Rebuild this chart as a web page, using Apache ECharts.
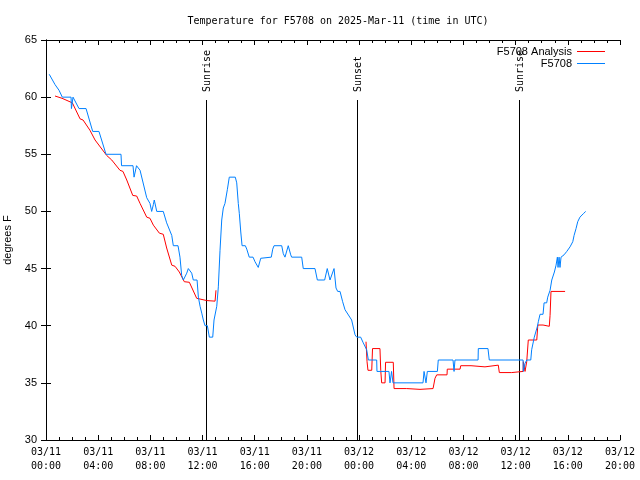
<!DOCTYPE html>
<html>
<head>
<meta charset="utf-8">
<script src="https://cdn.jsdelivr.net/npm/echarts@6/dist/echarts.min.js"></script>
<style>
html,body{margin:0;padding:0;background:#fff;}
#chart{width:640px;height:480px;}
</style>
</head>
<body>
<div id="chart"></div>
<script>
// Hours since 2025-03-11 00:00 UTC
const obsHours = [0.25,0.69,1.0,1.25,1.92,1.95,2.07,2.15,2.53,3.07,3.58,4.06,4.6,5.75,5.79,6.67,6.75,6.9,6.94,7.21,7.72,7.97,8.1,8.23,8.3,8.49,8.99,9.25,9.64,9.76,10.12,10.27,10.4,10.53,10.79,10.91,11.04,11.17,11.29,11.58,11.68,11.81,11.94,12.06,12.19,12.37,12.52,12.78,12.88,13.09,13.21,13.34,13.47,13.59,13.72,13.9,14.05,14.51,14.62,14.74,14.82,14.93,15.03,15.28,15.39,15.58,15.87,16.02,16.27,16.46,16.52,17.27,17.38,17.48,18.07,18.19,18.32,18.57,18.76,18.83,19.6,19.72,20.62,20.8,21.36,21.56,21.77,22.08,22.23,22.36,22.54,22.74,22.92,23.43,23.69,23.82,24.12,24.32,24.58,24.71,25.35,25.37,26.29,26.37,26.49,26.6,28.9,28.98,29.13,29.23,30.0,30.07,31.2,31.28,31.35,33.12,33.14,33.88,33.98,36.57,36.59,36.72,36.85,37.16,37.23,37.43,37.56,37.66,37.74,37.87,38.1,38.18,38.38,38.46,38.64,38.77,38.89,38.97,39.1,39.2,39.25,39.33,39.4,39.48,39.53,39.71,39.92,40.17,40.38,40.48,40.63,40.76,40.93,41.19,41.37];
const obsTemps = [62,61.1,60.6,60,60,59,60,60,59,59,57,57,55,55,54,54,53,53,54,53.6,51.2,50.7,50,50.6,51,50,50,49,47.9,47,47,46,44.4,44,44.6,45,45,44.6,44,44,42.5,41.7,41.1,40.5,40,40,39,39,40.5,41.7,43.4,46.6,49.25,50.3,50.7,51.9,53,53,52.5,50.7,49.8,48.2,47,47,46.7,46,46,45.6,45.1,45.9,46,46,46.7,47,47,46.3,46,47,46.2,46,46,45,45,44,44,45,44,45,43.3,43,43,42.1,41.4,40.5,39.2,39,39,38.5,37.9,37,37,36,36,35,36,35,35,36,35,36,36,37,37,36,37,37,38,38,37,37,36,36.7,37,37,37.9,39,39,39.9,40.35,41,41,42,42,42.5,43.1,44,44.15,44.7,45.3,46,45.1,46,45.1,46,46,46.2,46.5,46.9,47.35,47.9,48.5,49.1,49.5,49.8,50];

const anaHours = [0.69,1.23,2.02,2.61,2.84,3.37,3.76,4.65,5.04,5.67,5.9,6.19,6.65,6.95,7.21,7.72,7.97,8.23,8.69,8.99,9.25,9.64,9.89,10.22,10.6,10.99,11.55,11.68,12.32,12.96,13.03,18.0,24.53,24.61,24.68,24.97,25.03,25.6,25.66,25.73,25.99,26.03,26.62,26.68,27.65,27.71,28.67,28.75,29.67,29.82,29.95,30.74,30.76,31.74,31.79,32.58,32.63,33.65,33.78,34.67,34.75,35.7,35.78,36.57,36.59,36.72,36.85,36.97,37.62,37.7,38.1,38.14,38.58,38.64,38.71,39.79];
const anaTemps = [60.1,59.9,59.5,58.1,58,57.1,56.25,54.9,54.5,53.6,53.5,52.75,51.4,51.35,50.7,49.5,49.4,48.8,48.1,48,46.8,45.3,45.2,44.7,43.85,43.8,42.4,42.25,42.2,42.15,43.1,null,38.6,36.85,36.1,36.1,38,38,36.1,35,35,36.8,36.8,34.5,34.5,34.43,34.43,34.5,34.5,35.4,35.7,35.7,36.2,36.2,36.5,36.5,36.4,36.4,36.55,36.55,35.9,35.9,36,36,36.85,36,36.85,38.75,38.75,40.06,40.06,39.95,39.95,40.9,43,43];

const eventHours = [12.27, 23.84, 36.26];
const eventNames = ['Sunrise', 'Sunset', 'Sunrise'];

const xTickDays = ['03/11','03/11','03/11','03/11','03/11','03/11','03/12','03/12','03/12','03/12','03/12','03/12'];
const xTickTimes = ['00:00','04:00','08:00','12:00','16:00','20:00','00:00','04:00','08:00','12:00','16:00','20:00'];

const monoFont = 'DejaVu Sans Mono';
const sansFont = 'Liberation Sans';
const anaColor = '#ff0000';
const obsColor = '#0080ff';

const obsData = obsHours.map((h, i) => [h, obsTemps[i]]);
const anaData = anaHours.map((h, i) => [h, anaTemps[i]]);

const chart = echarts.init(document.getElementById('chart'), null, {renderer: 'canvas'});

const xBase = {
  type: 'value', min: 0, max: 44, interval: 4,
  axisLine: {show: true, lineStyle: {color: '#000', width: 1}},
  axisTick: {show: true, inside: true, length: 5, lineStyle: {color: '#000'}},
  minorTick: {show: true, splitNumber: 4, length: 3, lineStyle: {color: '#000'}},
  splitLine: {show: false},
  minorSplitLine: {show: false}
};
const yBase = {
  type: 'value', min: 30, max: 65, interval: 5,
  axisLine: {show: true, lineStyle: {color: '#000', width: 1}},
  axisTick: {show: true, inside: true, length: 5, lineStyle: {color: '#000'}},
  splitLine: {show: false}
};

chart.setOption({
  animation: false,
  backgroundColor: '#fff',
  title: {
    text: 'Temperature for F5708 on 2025-Mar-11 (time in UTC)',
    left: 333, top: 11, textAlign: 'center',
    textStyle: {fontFamily: monoFont, fontSize: 10, fontWeight: 'normal', color: '#000'}
  },
  legend: {
    orient: 'vertical', right: 30, top: 41, align: 'right',
    itemWidth: 28, itemHeight: 1, itemGap: 1,
    data: [
      {name: 'F5708 Analysis', icon: 'rect', itemStyle: {color: anaColor}},
      {name: 'F5708', icon: 'rect', itemStyle: {color: obsColor}}
    ],
    textStyle: {fontFamily: sansFont, fontSize: 11, color: '#000'}
  },
  grid: {left: 46, right: 20, top: 40, bottom: 40, containLabel: false, outerBoundsMode: 'none'},
  xAxis: [
    Object.assign({}, xBase, {
      position: 'bottom',
      axisLabel: {
        show: true, margin: 5, lineHeight: 14,
        fontFamily: monoFont, fontSize: 10, color: '#000',
        formatter: function (v) {
          const i = Math.round(v / 4);
          return xTickDays[i] + '\n' + xTickTimes[i];
        }
      }
    }),
    Object.assign({}, xBase, {position: 'top', axisLabel: {show: false}})
  ],
  yAxis: [
    Object.assign({}, yBase, {
      position: 'left',
      name: 'degrees F', nameLocation: 'middle', nameGap: 31, nameRotate: 90,
      nameTextStyle: {fontFamily: sansFont, fontSize: 11, color: '#000'},
      axisLabel: {show: true, margin: 9, fontFamily: sansFont, fontSize: 11, color: '#000'}
    }),
    Object.assign({}, yBase, {position: 'right', axisLabel: {show: false}})
  ],
  series: [
    {
      name: 'F5708 Analysis', type: 'line', xAxisIndex: 0, yAxisIndex: 0,
      data: anaData, showSymbol: false, connectNulls: false,
      lineStyle: {color: anaColor, width: 1}, itemStyle: {color: anaColor},
      emphasis: {disabled: true}, z: 3
    },
    {
      name: 'F5708', type: 'line', xAxisIndex: 0, yAxisIndex: 0,
      data: obsData, showSymbol: false,
      lineStyle: {color: obsColor, width: 1}, itemStyle: {color: obsColor},
      emphasis: {disabled: true}, z: 4
    },
    {
      name: 'events', type: 'custom', xAxisIndex: 0, yAxisIndex: 0,
      data: eventHours.map(h => [h]),
      z: 2,
      renderItem: function (params, api) {
        const h = api.value(0);
        const p0 = api.coord([h, 30]);
        const p1 = api.coord([h, 59.75]);
        const pt = api.coord([h, 60.45]);
        const x = Math.round(p0[0]) + 0.5;
        return {
          type: 'group',
          children: [
            {type: 'line', shape: {x1: x, y1: p0[1], x2: x, y2: p1[1]},
             style: {stroke: '#000', lineWidth: 1}},
            {type: 'text', x: x + 1, y: pt[1], rotation: Math.PI / 2,
             style: {text: eventNames[params.dataIndex], align: 'left', verticalAlign: 'middle',
                     fontFamily: monoFont, fontSize: 10, fill: '#000'}}
          ]
        };
      }
    }
  ]
});
</script>
</body>
</html>
